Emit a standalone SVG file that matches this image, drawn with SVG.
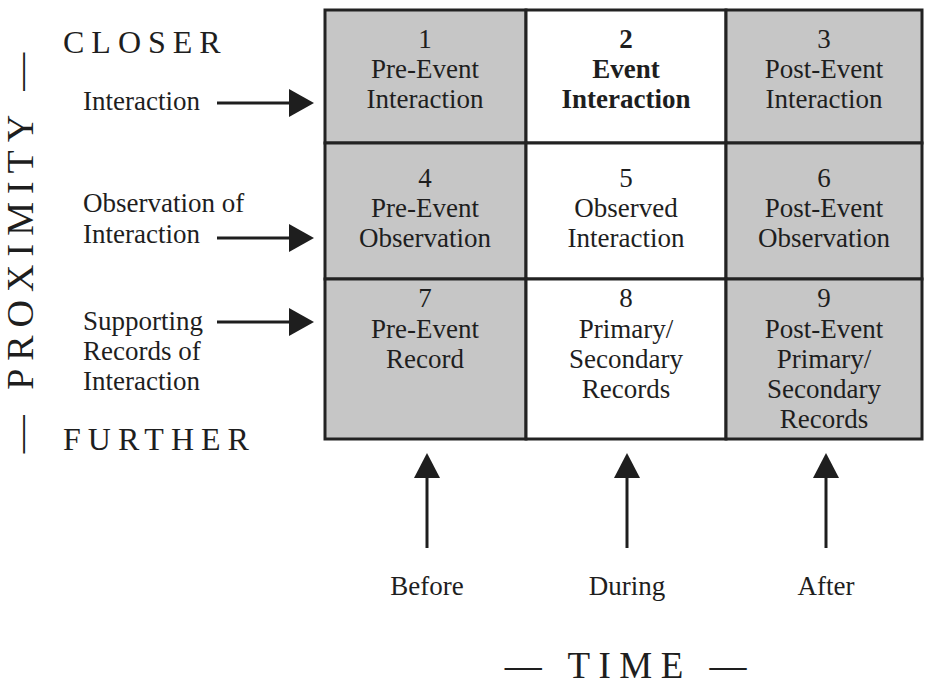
<svg xmlns="http://www.w3.org/2000/svg" width="925" height="687" viewBox="0 0 925 687">
<style>
text{font-family:"Liberation Serif","Times New Roman",serif;fill:#1e1e1e}
.c{font-size:27px;text-anchor:middle}
.b{font-weight:bold}
.l{font-size:27px}
.cap{font-size:32px;letter-spacing:7px}
.g{fill:#c6c6c6;stroke:#222;stroke-width:3}
.w{fill:#fff;stroke:#222;stroke-width:3}
.ln{stroke:#1e1e1e;stroke-width:3;fill:none}
.hd{fill:#1e1e1e}
</style>
<rect x="0" y="0" width="925" height="687" fill="#fff"/>
<g id="cell1"><rect class="g" x="325" y="10" width="201" height="133"/><text class="c" x="425" y="48">1</text><text class="c" x="425" y="78">Pre-Event</text><text class="c" x="425" y="108">Interaction</text></g>
<g id="cell2"><rect class="w" x="526" y="10" width="200" height="133"/><text class="c b" x="626" y="48">2</text><text class="c b" x="626" y="78">Event</text><text class="c b" x="626" y="108">Interaction</text></g>
<g id="cell3"><rect class="g" x="726" y="10" width="196" height="133"/><text class="c" x="824" y="48">3</text><text class="c" x="824" y="78">Post-Event</text><text class="c" x="824" y="108">Interaction</text></g>
<g id="cell4"><rect class="g" x="325" y="143" width="201" height="136"/><text class="c" x="425" y="187">4</text><text class="c" x="425" y="217">Pre-Event</text><text class="c" x="425" y="247">Observation</text></g>
<g id="cell5"><rect class="w" x="526" y="143" width="200" height="136"/><text class="c" x="626" y="187">5</text><text class="c" x="626" y="217">Observed</text><text class="c" x="626" y="247">Interaction</text></g>
<g id="cell6"><rect class="g" x="726" y="143" width="196" height="136"/><text class="c" x="824" y="187">6</text><text class="c" x="824" y="217">Post-Event</text><text class="c" x="824" y="247">Observation</text></g>
<g id="cell7"><rect class="g" x="325" y="279" width="201" height="160"/><text class="c" x="425" y="307">7</text><text class="c" x="425" y="338">Pre-Event</text><text class="c" x="425" y="368">Record</text></g>
<g id="cell8"><rect class="w" x="526" y="279" width="200" height="160"/><text class="c" x="626" y="307">8</text><text class="c" x="626" y="338">Primary/</text><text class="c" x="626" y="368">Secondary</text><text class="c" x="626" y="398">Records</text></g>
<g id="cell9"><rect class="g" x="726" y="279" width="196" height="160"/><text class="c" x="824" y="307">9</text><text class="c" x="824" y="338">Post-Event</text><text class="c" x="824" y="368">Primary/</text><text class="c" x="824" y="398">Secondary</text><text class="c" x="824" y="428">Records</text></g>
<g id="labels">
<text class="cap" x="63" y="53">CLOSER</text>
<text class="cap" x="63" y="450">FURTHER</text>
<text class="l" x="83" y="110">Interaction</text>
<text class="l" x="83" y="212">Observation of</text>
<text class="l" x="83" y="243">Interaction</text>
<text class="l" x="83" y="330">Supporting</text>
<text class="l" x="83" y="360">Records of</text>
<text class="l" x="83" y="390">Interaction</text>
<text class="c" x="427" y="595">Before</text>
<text class="c" x="627" y="595">During</text>
<text class="c" x="826" y="595">After</text>
<text transform="translate(33,249) rotate(-90)" style="font-size:38px;letter-spacing:8px" text-anchor="middle">— PROXIMITY —</text>
<text x="630" y="678" style="font-size:37px;letter-spacing:8.5px" text-anchor="middle">— TIME —</text>
</g>
<g id="connectors">
<line class="ln" x1="217" y1="103" x2="292" y2="103"/><polygon class="hd" points="289,89 314,103 289,117"/>
<line class="ln" x1="217" y1="238" x2="292" y2="238"/><polygon class="hd" points="289,224 314,238 289,252"/>
<line class="ln" x1="217" y1="322" x2="292" y2="322"/><polygon class="hd" points="289,308 314,322 289,336"/>
<line class="ln" x1="427" y1="548" x2="427" y2="474"/><polygon class="hd" points="414,478 427,453 440,478"/>
<line class="ln" x1="627" y1="548" x2="627" y2="474"/><polygon class="hd" points="614,478 627,453 640,478"/>
<line class="ln" x1="826" y1="548" x2="826" y2="474"/><polygon class="hd" points="813,478 826,453 839,478"/>
</g>
</svg>
